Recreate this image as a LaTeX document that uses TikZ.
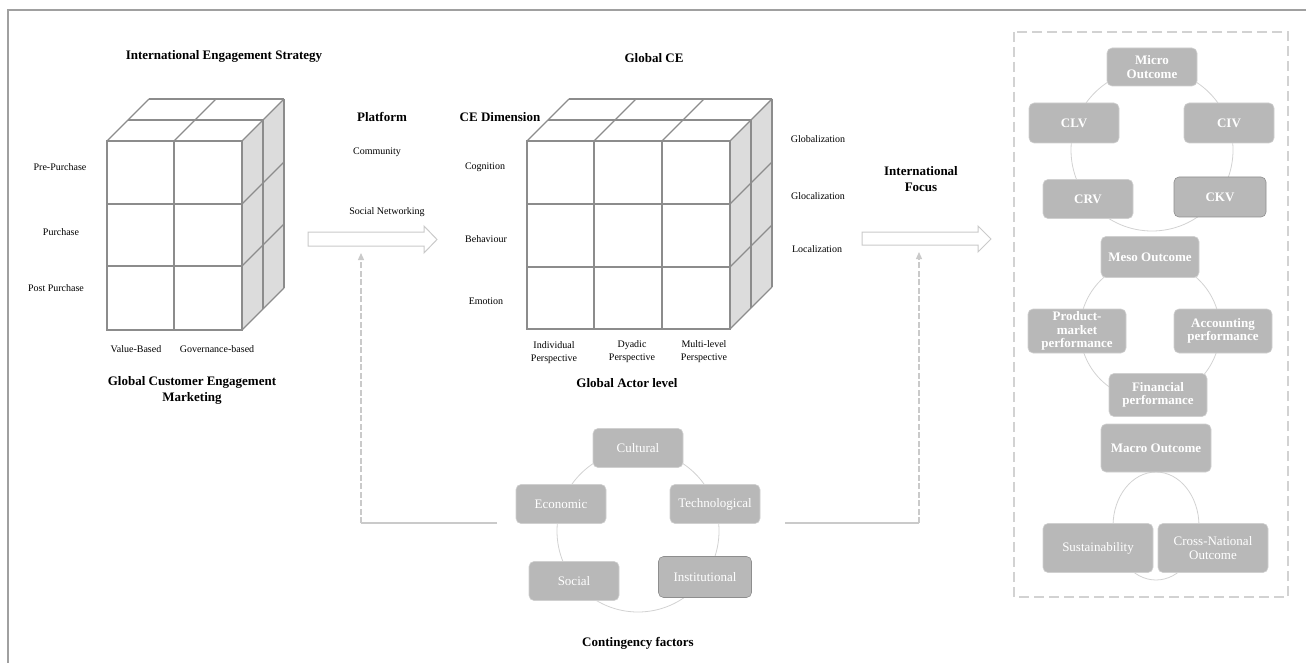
\documentclass[tikz,border=0pt]{standalone}
\usepackage{fontspec}
\setmainfont{Liberation Serif}
\usetikzlibrary{arrows.meta}
\definecolor{cubeline}{HTML}{8C8C8C}
\definecolor{sideface}{HTML}{DCDCDC}
\definecolor{boxfill}{HTML}{B8B8B8}
\definecolor{boxrim}{HTML}{D0D0D0}
\definecolor{darkrim}{HTML}{8E8E8E}
\definecolor{ringcol}{HTML}{D2D2D2}
\definecolor{arrowcol}{HTML}{CACACA}
\definecolor{framecol}{HTML}{A0A0A0}
\tikzset{
  cube/.style={draw=cubeline, line width=1.1pt},
  lbl/.style={font=\fontsize{10}{13}\selectfont, align=center, inner sep=0pt},
  ttl/.style={font=\fontsize{13}{16}\selectfont\bfseries, align=center, inner sep=0pt},
  gbox/.style={fill=boxfill, draw=boxrim, line width=0.6pt, rounded corners=5pt,
    text=white, align=center, inner sep=0pt, font=\fontsize{13}{13.5}\selectfont},
  gboxb/.style={gbox, font=\fontsize{13}{13.5}\selectfont\bfseries},
  ring/.style={draw=ringcol, line width=0.8pt},
  blockarrow/.style={draw=arrowcol, fill=white, line width=1pt},
  dashlink/.style={draw=arrowcol, line width=1.2pt, dash pattern=on 6pt off 2.5pt},
  solidlink/.style={draw=arrowcol, line width=1.2pt},
}
\begin{document}
\begin{tikzpicture}[x=1pt,y=-1pt]
\useasboundingbox (0,0) rectangle (1306,663);
% outer frame (top and left)
\draw[framecol, line width=1.5pt] (8,663) -- (8,10) -- (1306,10);

% ---------- left cube ----------
\fill[sideface] (242,141) -- (284,99) -- (284,288) -- (242,330) -- cycle;
\foreach \k in {0,21,42} \draw[cube] (107+\k,141-\k) -- (242+\k,141-\k);
\foreach \x in {107,174,242} \draw[cube] (\x,141) -- ++(42,-42);
\foreach \k in {0,21,42} \draw[cube] (242+\k,141-\k) -- (242+\k,330-\k);
\foreach \y in {204,266,330} \draw[cube] (242,\y) -- ++(42,-42);
\draw[cube] (107,141) rectangle (242,330);
\draw[cube] (174,141) -- (174,330);
\draw[cube] (107,204) -- (242,204);
\draw[cube] (107,266) -- (242,266);

% ---------- middle cube ----------
\fill[sideface] (730,141) -- (772,98) -- (772,286) -- (730,329) -- cycle;
\foreach \k in {0,21,42} \draw[cube] (527+\k,141-\k) -- (730+\k,141-\k);
\foreach \x in {527,594,662,730} \draw[cube] (\x,141) -- ++(42,-42);
\foreach \k in {0,21,42} \draw[cube] (730+\k,141-\k) -- (730+\k,329-\k);
\foreach \y in {204,267,329} \draw[cube] (730,\y) -- ++(42,-42);
\draw[cube] (527,141) rectangle (730,329);
\draw[cube] (594,141) -- (594,329);
\draw[cube] (662,141) -- (662,329);
\draw[cube] (527,204) -- (730,204);
\draw[cube] (527,267) -- (730,267);

% ---------- left labels ----------
\node[ttl] (ies) at (224,56) {International Engagement Strategy};
\node[lbl] (pre) at (60,167) {Pre-Purchase};
\node[lbl] (pur) at (61,232) {Purchase};
\node[lbl] (post) at (56,288) {Post Purchase};
\node[lbl] (vb) at (136,349) {Value-Based};
\node[lbl] (gb) at (217,349) {Governance-based};
\node[ttl] (gcem) at (192,390) {Global Customer Engagement\\Marketing};

% ---------- platform ----------
\node[ttl] (plat) at (382,117) {Platform};
\node[lbl] (comm) at (377,152) {Community};
\node[lbl] (sn) at (387,212) {Social Networking};

% ---------- middle labels ----------
\node[ttl] (gce) at (654,58) {Global CE};
\node[ttl] (ced) at (500,117) {CE Dimension};
\node[lbl] (cog) at (485,167) {Cognition};
\node[lbl] (beh) at (486,239) {Behaviour};
\node[lbl] (emo) at (486,301) {Emotion};
\node[lbl] (ind) at (554,353) {Individual\\Perspective};
\node[lbl] (dya) at (632,352) {Dyadic\\Perspective};
\node[lbl] (mul) at (704,352) {Multi-level\\Perspective};
\node[ttl] (gal) at (627,383) {Global Actor level};
\node[lbl] (glob) at (818,139) {Globalization};
\node[lbl] (gloc) at (818,196) {Glocalization};
\node[lbl] (loc) at (817,249) {Localization};
\node[ttl] (ifoc) at (921,179) {International\\Focus};

% ---------- block arrows ----------
\draw[blockarrow] (308,232) -- (424,232) -- (424,226) -- (437,239.5) -- (424,253) -- (424,246) -- (308,246) -- cycle;
\draw[blockarrow] (862,232) -- (978,232) -- (978,226) -- (991,239) -- (978,252) -- (978,245) -- (862,245) -- cycle;

% ---------- contingency factors ----------
\draw[ring] (638,531) circle[radius=81];
\node[gbox, minimum width=90, minimum height=39] (cult) at (638,448) {Cultural};
\node[gbox, minimum width=90, minimum height=39] (econ) at (561,504) {Economic};
\node[gbox, minimum width=90, minimum height=39] (tech) at (715,504) {Technological};
\node[gbox, minimum width=90, minimum height=39] (soc) at (574,581) {Social};
\node[gbox, draw=darkrim, minimum width=93, minimum height=41] (inst) at (705,577) {Institutional};
\node[ttl] (cf) at (638,643) {Contingency factors};

% ---------- dashed links ----------
\coordinate (lstart) at (497,523);
\coordinate (lcorner) at (361,523);
\coordinate (ltip) at (361,253);
\coordinate (rstart) at (785,523);
\coordinate (rcorner) at (919,523);
\coordinate (rtip) at (919,252);
\draw[solidlink] (lstart) -- (lcorner);
\draw[dashlink, -{Triangle[width=6pt,length=7pt]}] (lcorner) -- (ltip);
\draw[solidlink] (rstart) -- (rcorner);
\draw[dashlink, -{Triangle[width=6pt,length=7pt]}] (rcorner) -- (rtip);

% ---------- outcome panel ----------
\draw[draw=ringcol, line width=1.2pt, dash pattern=on 10pt off 5pt] (1014,32) rectangle (1288,597);
\draw[ring] (1152,150) circle[radius=81];
\draw[ring] (1150,330) circle[radius=70];
\draw[ring] (1156,526) ellipse[x radius=43, y radius=54];
\node[gboxb, minimum width=90, minimum height=38] (micro) at (1152,67) {Micro\\Outcome};
\node[gboxb, minimum width=90, minimum height=40] (clv) at (1074,123) {CLV};
\node[gboxb, minimum width=90, minimum height=40] (civ) at (1229,123) {CIV};
\node[gboxb, minimum width=90, minimum height=39] (crv) at (1088,199) {CRV};
\node[gboxb, draw=darkrim, minimum width=92, minimum height=40] (ckv) at (1220,197) {CKV};
\node[gboxb, minimum width=98, minimum height=41] (meso) at (1150,257) {Meso Outcome};
\node[gboxb, minimum width=98, minimum height=44] (pmp) at (1077,331) {Product-\\market\\performance};
\node[gboxb, minimum width=98, minimum height=44] (accp) at (1223,331) {Accounting\\performance};
\node[gboxb, minimum width=98, minimum height=43] (finp) at (1158,395) {Financial\\performance};
\node[gboxb, minimum width=110, minimum height=48] (macro) at (1156,448) {Macro Outcome};
\node[gbox, minimum width=110, minimum height=49] (sust) at (1098,548) {Sustainability};
\node[gbox, minimum width=110, minimum height=49] (cno) at (1213,548) {Cross-National\\Outcome};
\end{tikzpicture}
\end{document}
